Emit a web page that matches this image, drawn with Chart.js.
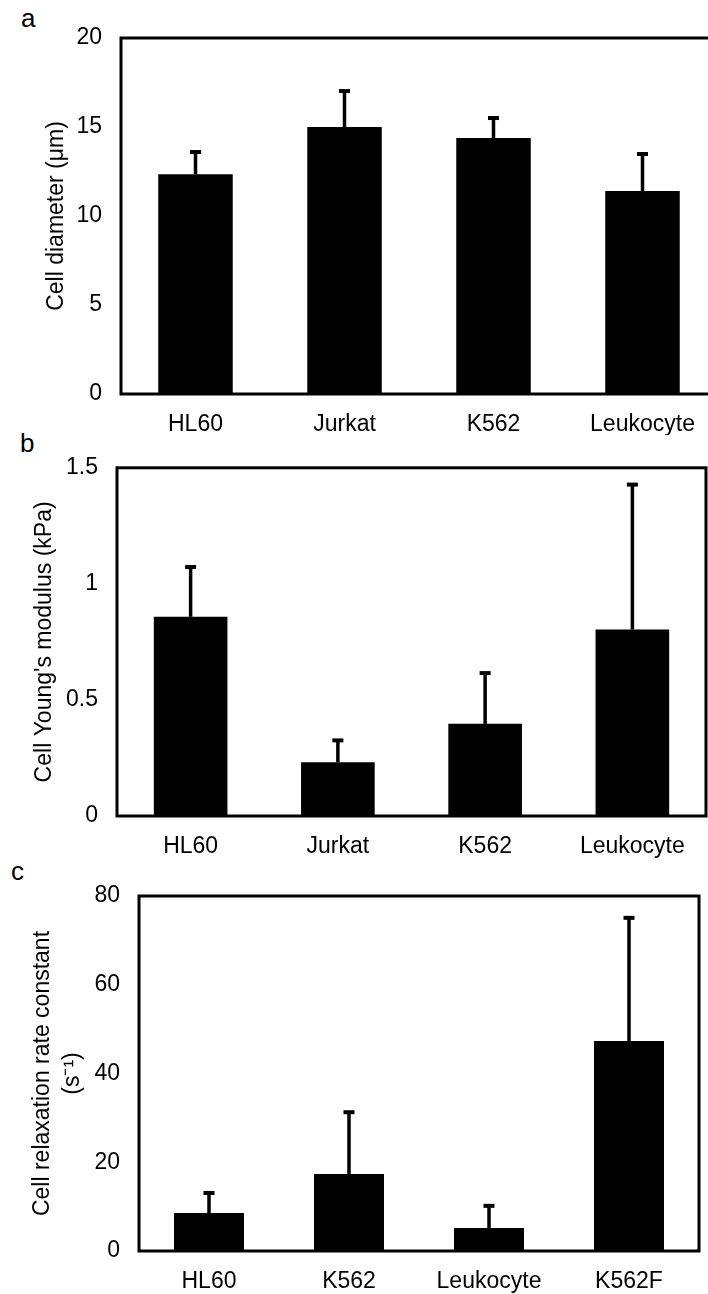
<!DOCTYPE html>
<html>
<head>
<meta charset="utf-8">
<script src="https://cdn.jsdelivr.net/npm/chart.js@4/dist/chart.umd.min.js"></script>
<style>
  html, body { margin: 0; padding: 0; background: #fff; overflow: hidden; width: 708px; height: 1294px; }
  .panel { position: absolute; left: 0; }
  .letter { position: absolute; font-family: "Liberation Sans", Arial, sans-serif; font-size: 26px; line-height: 26px; color: #000; }
</style>
</head>
<body>
<div class="letter" style="left:21px; top:5px;">a</div>
<div class="letter" style="left:20px; top:430px;">b</div>
<div class="letter" style="left:11px; top:858px;">c</div>

<div class="panel" style="top:0px; width:730px; height:435px;"><canvas id="chartA"></canvas></div>
<div class="panel" style="top:435px; width:708px; height:427px;"><canvas id="chartB"></canvas></div>
<div class="panel" style="top:862px; width:708px; height:432px;"><canvas id="chartC"></canvas></div>

<script>
// ---- Data ----
const categoriesA = ["HL60", "Jurkat", "K562", "Leukocyte"];
const diameterMean = [12.35, 15.0, 14.38, 11.4];
const diameterSD = [1.3, 2.08, 1.18, 2.14];
const yTicksA = [0, 5, 10, 15, 20];

const categoriesB = ["HL60", "Jurkat", "K562", "Leukocyte"];
const modulusMean = [0.858, 0.232, 0.397, 0.803];
const modulusSD = [0.219, 0.098, 0.223, 0.629];
const yTicksB = [0, 0.5, 1, 1.5];

const categoriesC = ["HL60", "K562", "Leukocyte", "K562F"];
const relaxMean = [8.56, 17.35, 5.2, 47.3];
const relaxSD = [4.74, 14.15, 5.2, 28.0];
const yTicksC = [0, 20, 40, 60, 80];

const FONT = "'Liberation Sans', Arial, sans-serif";

// Frame + error bar plugin
const framePlugin = {
  id: 'frameErr',
  afterDatasetsDraw(chart, args, opts) {
    const ctx = chart.ctx;
    const meta = chart.getDatasetMeta(0);
    const ys = chart.scales.y;
    const vals = chart.data.datasets[0].data;
    const errs = opts.errors || [];
    ctx.save();
    ctx.strokeStyle = '#000';
    meta.data.forEach((bar, i) => {
      const top = ys.getPixelForValue(vals[i] + errs[i]);
      ctx.lineWidth = 3.5;
      ctx.beginPath();
      ctx.moveTo(bar.x, bar.y);
      ctx.lineTo(bar.x, top + 1);
      ctx.stroke();
      ctx.lineWidth = 4;
      ctx.beginPath();
      ctx.moveTo(bar.x - 5.5, top + 1);
      ctx.lineTo(bar.x + 5.5, top + 1);
      ctx.stroke();
    });
    const a = chart.chartArea;
    ctx.lineWidth = 3;
    ctx.strokeRect(a.left, a.top, a.right - a.left, a.bottom - a.top);
    ctx.restore();
  }
};

function makeChart(id, cats, vals, errs, ticks, cfg) {
  return new Chart(document.getElementById(id), {
    type: 'bar',
    data: {
      labels: cats,
      datasets: [{
        data: vals,
        backgroundColor: '#000',
        borderWidth: 0,
        categoryPercentage: 1.0,
        barPercentage: 0.5
      }]
    },
    options: {
      responsive: true,
      maintainAspectRatio: false,
      animation: false,
      layout: { padding: { left: 0, top: cfg.padTop, right: cfg.padRight, bottom: 0 } },
      plugins: {
        legend: { display: false },
        tooltip: { enabled: false },
        frameErr: { errors: errs }
      },
      scales: {
        x: {
          grid: { display: false, drawTicks: false },
          border: { display: false },
          ticks: { color: '#000', font: { family: FONT, size: 23 }, padding: cfg.xPad, maxRotation: 0, autoSkip: false },
          afterFit: s => { s.height = cfg.xHeight; }
        },
        y: {
          min: ticks[0],
          max: ticks[ticks.length - 1],
          grid: { display: false, drawTicks: false },
          border: { display: false },
          afterBuildTicks: s => { s.ticks = ticks.map(v => ({ value: v })); },
          ticks: { color: '#000', font: { family: FONT, size: 23 }, padding: 19, callback: v => String(v) },
          title: {
            display: true,
            text: cfg.title,
            color: '#000',
            font: { family: FONT, size: 23, lineHeight: 1.3 },
            padding: { top: cfg.titlePad, bottom: 0 }
          },
          afterFit: s => { s.width = cfg.yWidth; }
        }
      }
    },
    plugins: [framePlugin]
  });
}

makeChart('chartA', categoriesA, diameterMean, diameterSD, yTicksA,
  { padTop: 38, padRight: 13, xHeight: 41, xPad: 17, yWidth: 121, title: 'Cell diameter (μm)', titlePad: 42 });
makeChart('chartB', categoriesB, modulusMean, modulusSD, yTicksB,
  { padTop: 26, padRight: 2, xHeight: 46, xPad: 17, yWidth: 117, title: "Cell Young's modulus (kPa)", titlePad: 30 });
makeChart('chartC', categoriesC, relaxMean, relaxSD, yTicksC,
  { padTop: 34, padRight: 9, xHeight: 43, xPad: 17, yWidth: 139, title: ['Cell relaxation rate constant', '(s⁻¹)'], titlePad: 28 });
</script>
</body>
</html>
